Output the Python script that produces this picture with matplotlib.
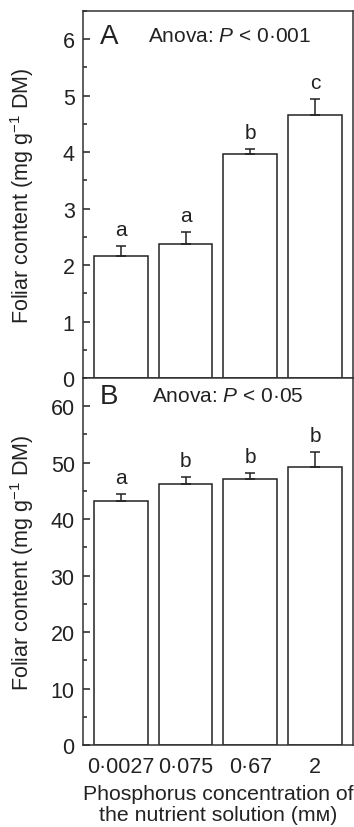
import matplotlib
matplotlib.use("Agg")
import matplotlib.pyplot as plt
from matplotlib.ticker import MultipleLocator
import numpy as np

plt.rcParams['font.family'] = ['Liberation Sans', 'DejaVu Sans']
plt.rcParams['mathtext.fontset'] = 'custom'
plt.rcParams['mathtext.rm'] = 'Liberation Sans'
plt.rcParams['mathtext.it'] = 'Liberation Sans:italic'
plt.rcParams['mathtext.default'] = 'regular'

# data
conc_labels = ['0·0027', '0·075', '0·67', '2']
a_means = [2.16, 2.38, 3.96, 4.65]
a_err = [0.18, 0.20, 0.09, 0.29]
a_letters = ['a', 'a', 'b', 'c']
b_means = [43.3, 46.2, 47.1, 49.2]
b_err = [1.1, 1.2, 1.1, 2.7]
b_letters = ['a', 'b', 'b', 'b']

fig = plt.figure(figsize=(3.54, 8.28), dpi=100)
left, right = 0.2345, 0.997
axA = fig.add_axes([left, 0.5423, right - left, 0.9855 - 0.5423])
axB = fig.add_axes([left, 0.0990, right - left, 0.5423 - 0.0990])

x = np.arange(len(conc_labels))
lw = 1.1


def panel(ax, means, err, letters, ymax, major, minor, tag, ptext, tag_y, txt_x):
    ax.bar(x, means, width=0.83, color='white', edgecolor='#222222', linewidth=lw, zorder=2)
    ax.errorbar(x, means, yerr=[np.zeros(len(err)), err], fmt='none',
                ecolor='#222222', elinewidth=lw, capsize=3.3, capthick=lw, zorder=3)
    for xi, m, e, lab in zip(x, means, err, letters):
        ax.annotate(lab, (xi, m + e), xytext=(0, 5), textcoords='offset points',
                    ha='center', va='bottom', fontsize=15, color='#222222')
    ax.set_xlim(-0.58, 3.58)
    ax.set_ylim(0, ymax)
    ax.yaxis.set_major_locator(MultipleLocator(major))
    ax.yaxis.set_minor_locator(MultipleLocator(minor))
    ax.tick_params(axis='y', which='major', direction='in', length=5, width=lw,
                   labelsize=15.5, pad=6, colors='#222222')
    ax.tick_params(axis='y', which='minor', direction='in', length=3, width=lw, colors='#222222')
    ax.tick_params(axis='x', length=0, labelsize=15.5, pad=8, colors='#222222')
    for s in ax.spines.values():
        s.set_linewidth(lw)
        s.set_color('#333333')
    ax.text(0.063, tag_y, tag, transform=ax.transAxes, fontsize=20,
            va='center', ha='left', color='#222222')
    ax.text(txt_x, tag_y, ptext, transform=ax.transAxes, fontsize=15,
            va='center', ha='left', color='#222222')
    ax.set_ylabel(r'Foliar content (mg g$^{-1}$ DM)', fontsize=15.5, color='#222222')


panel(axA, a_means, a_err, a_letters, 6.5, 1, 0.5, 'A', r'Anova: $\it{P}$ < 0·001', 0.932, 0.24)
panel(axB, b_means, b_err, b_letters, 65, 10, 5, 'B', r'Anova: $\it{P}$ < 0·05', 0.951, 0.254)

axA.set_xticks(x)
axA.set_xticklabels([])
axB.set_xticks(x)
axB.set_xticklabels(conc_labels)
axB.set_xlabel('Phosphorus concentration of\nthe nutrient solution (mᴍ)', fontsize=15.3,
               color='#222222', labelpad=5, linespacing=1.12)

for ax in (axA, axB):
    ax.yaxis.set_label_coords(-0.175, 0.5)

fig.savefig('out.png', dpi=100)
